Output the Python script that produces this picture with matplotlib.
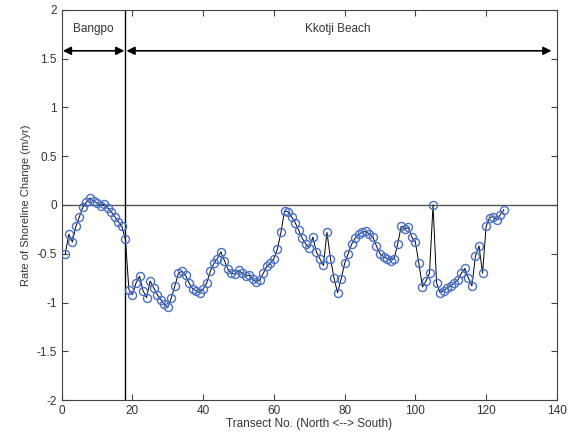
import matplotlib
matplotlib.use("Agg")
import matplotlib.pyplot as plt
import numpy as np

plt.rcParams['font.family'] = ['Liberation Sans', 'DejaVu Sans']

transect = list(range(1, 126))
rate = [
    -0.50, -0.30, -0.38, -0.22, -0.12, -0.02, 0.03, 0.07, 0.04, 0.02,
    -0.01, 0.01, -0.03, -0.07, -0.12, -0.17, -0.22, -0.35, -0.87, -0.92,
    -0.80, -0.73, -0.88, -0.95, -0.78, -0.85, -0.92, -0.97, -1.02, -1.05,
    -0.95, -0.83, -0.70, -0.68, -0.72, -0.80, -0.86, -0.88, -0.90, -0.86,
    -0.80, -0.68, -0.60, -0.55, -0.48, -0.57, -0.66, -0.70, -0.71, -0.67,
    -0.70, -0.73, -0.72, -0.76, -0.79, -0.77, -0.70, -0.63, -0.60, -0.55,
    -0.45, -0.28, -0.06, -0.07, -0.12, -0.18, -0.26, -0.34, -0.40, -0.44,
    -0.33, -0.48, -0.55, -0.62, -0.28, -0.55, -0.75, -0.90, -0.76, -0.60,
    -0.50, -0.40, -0.34, -0.30, -0.28, -0.27, -0.30, -0.33, -0.42, -0.50,
    -0.53, -0.55, -0.57, -0.55, -0.40, -0.22, -0.25, -0.23, -0.33, -0.38,
    -0.60, -0.84, -0.78, -0.70, 0.00, -0.80, -0.90, -0.88, -0.85, -0.83,
    -0.80, -0.77, -0.70, -0.65, -0.75, -0.83, -0.52, -0.42, -0.70, -0.22,
    -0.13, -0.12, -0.15, -0.10, -0.05,
]
boundary = 18
xticks = [0, 20, 40, 60, 80, 100, 120, 140]
yticks = [-2, -1.5, -1, -0.5, 0, 0.5, 1, 1.5, 2]
ytick_labels = ['-2', '-1.5', '-1', '-0.5', '0', '0.5', '1', '1.5', '2']

fig = plt.figure(figsize=(5.77, 4.47), dpi=100)
ax = fig.add_axes([0.107, 0.105, 0.858, 0.873])

txt = '#333333'
ax.plot(transect, rate, color='black', lw=0.7, zorder=3)
ax.plot(transect, rate, ls='none', marker='o', ms=5.8, mfc='none',
        mec='#4a70c8', mew=1.0, zorder=4)
ax.axhline(0, color='#555555', lw=1.0, zorder=2)
ax.axvline(boundary, color='black', lw=1.0, zorder=2)

arrow_kw = dict(arrowstyle='<|-|>', color='black', lw=1.2, mutation_scale=12,
                shrinkA=0, shrinkB=0)
ax.annotate('', xy=(0.3, 1.58), xytext=(boundary - 0.3, 1.58), arrowprops=arrow_kw)
ax.annotate('', xy=(boundary + 0.3, 1.58), xytext=(138.5, 1.58), arrowprops=arrow_kw)
ax.text(boundary / 2, 1.8, 'Bangpo', ha='center', va='center', fontsize=8.5, color=txt)
ax.text(78, 1.8, 'Kkotji Beach', ha='center', va='center', fontsize=8.5, color=txt)

ax.set_xlim(0, 140)
ax.set_ylim(-2, 2)
ax.set_xticks(xticks)
ax.set_yticks(yticks)
ax.set_yticklabels(ytick_labels)
ax.tick_params(direction='in', top=True, right=True, length=4, labelsize=8.5,
               labelcolor=txt, color='#444444')
for s in ax.spines.values():
    s.set_color('#444444')
    s.set_linewidth(0.8)
ax.set_xlabel('Transect No. (North <--> South)', fontsize=8.5, color=txt, labelpad=1)
ax.set_ylabel('Rate of Shoreline Change (m/yr)', fontsize=8, color=txt, labelpad=4)

fig.savefig('out.png', dpi=100)
